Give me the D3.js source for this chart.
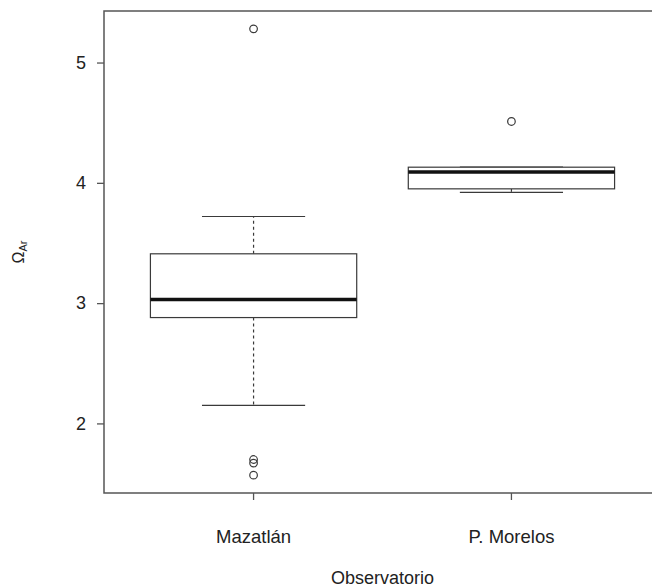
<!DOCTYPE html>
<html>
<head>
<meta charset="utf-8">
<script src="https://cdn.jsdelivr.net/npm/d3@7"></script>
<style>
  html, body { margin: 0; padding: 0; background: #fff; }
  svg { display: block; }
  text { font-family: "Liberation Sans", Arial, Helvetica, sans-serif; fill: #222; }
</style>
</head>
<body>
<svg id="chart" width="652" height="588"></svg>
<script>
// Five-number summaries per observatory
const categories = ["Mazatlán", "P. Morelos"];
const lowerWhisker = [2.15, 3.92];
const lowerHinge   = [2.88, 3.95];
const medians      = [3.03, 4.09];
const upperHinge   = [3.41, 4.13];
const upperWhisker = [3.72, 4.13];
const outliers = [
  [5.28, 1.70, 1.67, 1.57],
  [4.51]
];
const yTicks = [2, 3, 4, 5];

const svg = d3.select("#chart");
const plotLeft = 104, plotRight = 661, plotTop = 11, plotBottom = 493;

// Value range padded by 4% each side
const allVals = lowerWhisker.concat(upperWhisker, outliers.flat());
const lo = d3.min(allVals), hi = d3.max(allVals);
const pad = (hi - lo) * 0.04;

const y = d3.scaleLinear().domain([lo - pad, hi + pad]).range([plotBottom, plotTop]);
const x = d3.scaleBand().domain(categories).range([plotLeft, plotRight])
  .paddingInner(0.2).paddingOuter(0.18);

const ink = "#3a3a3a";
const bw = x.bandwidth();

const groups = svg.selectAll("g.box").data(categories).join("g").attr("class", "box")
  .attr("transform", d => `translate(${x(d)},0)`);

// Whiskers (dashed) and staples
groups.append("line")
  .attr("x1", bw / 2).attr("x2", bw / 2)
  .attr("y1", (d, i) => y(upperHinge[i])).attr("y2", (d, i) => y(upperWhisker[i]))
  .attr("stroke", ink).attr("stroke-width", 1.2).attr("stroke-dasharray", "3,3");
groups.append("line")
  .attr("x1", bw / 2).attr("x2", bw / 2)
  .attr("y1", (d, i) => y(lowerHinge[i])).attr("y2", (d, i) => y(lowerWhisker[i]))
  .attr("stroke", ink).attr("stroke-width", 1.2).attr("stroke-dasharray", "3,3");
groups.append("line")
  .attr("x1", bw / 4).attr("x2", bw * 3 / 4)
  .attr("y1", (d, i) => y(upperWhisker[i])).attr("y2", (d, i) => y(upperWhisker[i]))
  .attr("stroke", ink).attr("stroke-width", 1.2);
groups.append("line")
  .attr("x1", bw / 4).attr("x2", bw * 3 / 4)
  .attr("y1", (d, i) => y(lowerWhisker[i])).attr("y2", (d, i) => y(lowerWhisker[i]))
  .attr("stroke", ink).attr("stroke-width", 1.2);

// Boxes
groups.append("rect")
  .attr("x", 0).attr("width", bw)
  .attr("y", (d, i) => y(upperHinge[i]))
  .attr("height", (d, i) => y(lowerHinge[i]) - y(upperHinge[i]))
  .attr("fill", "#fff").attr("stroke", ink).attr("stroke-width", 1.2);

// Medians
groups.append("line")
  .attr("x1", 0).attr("x2", bw)
  .attr("y1", (d, i) => y(medians[i])).attr("y2", (d, i) => y(medians[i]))
  .attr("stroke", "#111").attr("stroke-width", 3.5);

// Outliers
groups.each(function(d, i) {
  d3.select(this).selectAll("circle").data(outliers[i]).join("circle")
    .attr("cx", bw / 2).attr("cy", v => y(v)).attr("r", 3.8)
    .attr("fill", "none").attr("stroke", ink).attr("stroke-width", 1.2);
});

// Frame
svg.append("rect")
  .attr("x", plotLeft).attr("y", plotTop)
  .attr("width", plotRight - plotLeft).attr("height", plotBottom - plotTop)
  .attr("fill", "none").attr("stroke", "#555").attr("stroke-width", 1.5);

// Y axis
const yAxis = svg.append("g").attr("transform", `translate(${plotLeft},0)`)
  .call(d3.axisLeft(y).tickValues(yTicks).tickSize(7).tickPadding(11).tickFormat(d3.format("d")));
yAxis.select(".domain").remove();
yAxis.selectAll(".tick line").attr("stroke", "#555").attr("stroke-width", 1.3);
yAxis.selectAll(".tick text").attr("font-size", 18).attr("fill", "#222");

// X axis
const xAxis = svg.append("g").attr("transform", `translate(0,${plotBottom})`)
  .call(d3.axisBottom(x).tickSize(7).tickPadding(30));
xAxis.select(".domain").remove();
xAxis.selectAll(".tick line").attr("stroke", "#555").attr("stroke-width", 1.3);
xAxis.selectAll(".tick text").attr("font-size", 18.5).attr("fill", "#222");

// Axis titles
svg.append("text")
  .attr("x", (plotLeft + plotRight) / 2).attr("y", 584)
  .attr("text-anchor", "middle").attr("font-size", 18)
  .text("Observatorio");

const yTitle = svg.append("text")
  .attr("transform", `translate(24,${(plotTop + plotBottom) / 2}) rotate(-90)`)
  .attr("text-anchor", "middle").attr("font-size", 16);
yTitle.append("tspan").text("Ω");
yTitle.append("tspan").attr("font-size", 11).attr("dy", 3).text("Ar");
</script>
</body>
</html>
